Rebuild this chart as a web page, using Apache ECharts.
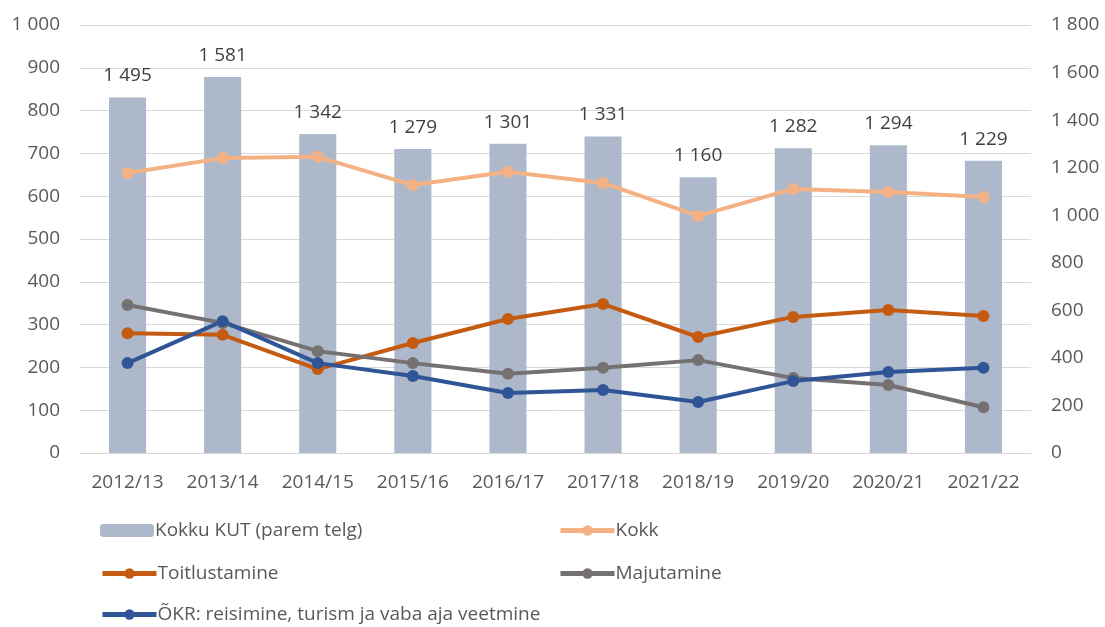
<!DOCTYPE html>
<html>
<head>
<meta charset="utf-8">
<script src="https://cdn.jsdelivr.net/npm/echarts@6/dist/echarts.min.js"></script>
<style>
  html, body { margin: 0; padding: 0; background: #fff; }
  #chart { width: 1105px; height: 627px; }
</style>
</head>
<body>
<div id="chart"></div>
<script>
const categories = ["2012/13", "2013/14", "2014/15", "2015/16", "2016/17", "2017/18", "2018/19", "2019/20", "2020/21", "2021/22"]
const kokkuKut = [1495, 1581, 1342, 1279, 1301, 1331, 1160, 1282, 1294, 1229]
const kokk = [654, 689, 692, 626, 657, 631, 554, 617, 610, 598]
const toitlustamine = [280, 276, 196, 257, 313, 348, 271, 318, 334, 320]
const majutamine = [346, 304, 238, 210, 185, 199, 217, 175, 159, 107]
const okr = [210, 308, 210, 180, 140, 147, 119, 168, 189, 199]

const names = {
    bar: "Kokku KUT (parem telg)",
    kokk: "Kokk",
    toit: "Toitlustamine",
    maju: "Majutamine",
    okr: "ÕKR: reisimine, turism ja vaba aja veetmine",
}

const FONT = "Open Sans"
const TXT = "#595959"
const FS = 19

function numFormat(num) {
    return String(num).replace(/\B(?=(\d{3})+(?!\d))/g, " ")
}

function lineSeries(name, data, color) {
    return {
        name: name,
        type: "line",
        yAxisIndex: 0,
        data: data,
        symbol: "circle",
        symbolSize: 12,
        lineStyle: { width: 4, color: color },
        itemStyle: { color: color },
        z: 3,
    }
}

function legendAt(name, left, top) {
    return {
        data: [name],
        left: left,
        top: top,
        itemWidth: 54,
        itemHeight: 13,
        itemGap: 0,
        padding: 0,
        lineStyle: { width: 5 },
        textStyle: { fontFamily: FONT, fontSize: FS, color: TXT, padding: [0, 0, 0, -4] },
    }
}

const myChart = echarts.init(document.getElementById("chart"))
myChart.setOption({
    animation: false,
    grid: { left: 80, right: 74, top: 25, bottom: 174 },
    legend: [
        legendAt(names.bar, 100, 521),
        legendAt(names.kokk, 558, 521),
        legendAt(names.toit, 100, 564),
        legendAt(names.maju, 558, 564),
        legendAt(names.okr, 100, 605),
    ],
    xAxis: {
        type: "category",
        data: categories,
        axisLine: { lineStyle: { color: "#d9d9d9", width: 1 } },
        axisTick: { show: false },
        axisLabel: { fontFamily: FONT, fontSize: FS, color: TXT, margin: 20 },
    },
    yAxis: [
        {
            type: "value",
            min: 0,
            max: 1000,
            interval: 100,
            axisLine: { show: false },
            axisTick: { show: false },
            splitLine: { lineStyle: { color: "#d9d9d9", width: 1 } },
            axisLabel: { fontFamily: FONT, fontSize: FS, color: TXT, margin: 20, formatter: numFormat },
        },
        {
            type: "value",
            min: 0,
            max: 1800,
            interval: 200,
            axisLine: { show: false },
            axisTick: { show: false },
            splitLine: { show: false },
            axisLabel: { fontFamily: FONT, fontSize: FS, color: TXT, margin: 20, formatter: numFormat },
        },
    ],
    series: [
        {
            name: names.bar,
            type: "bar",
            yAxisIndex: 1,
            data: kokkuKut,
            barWidth: "39%",
            itemStyle: { color: "#adb9ca" },
            label: {
                show: true,
                position: "top",
                distance: 12,
                fontFamily: FONT,
                fontSize: 19,
                color: "#404040",
                formatter: (p) => numFormat(p.value),
            },
            z: 1,
        },
        lineSeries(names.kokk, kokk, "#f4b183"),
        lineSeries(names.toit, toitlustamine, "#c55a11"),
        lineSeries(names.maju, majutamine, "#767171"),
        lineSeries(names.okr, okr, "#2f5597"),
    ],
})
window.addEventListener("resize", function () {
    myChart.resize()
})
</script>
</body>
</html>
